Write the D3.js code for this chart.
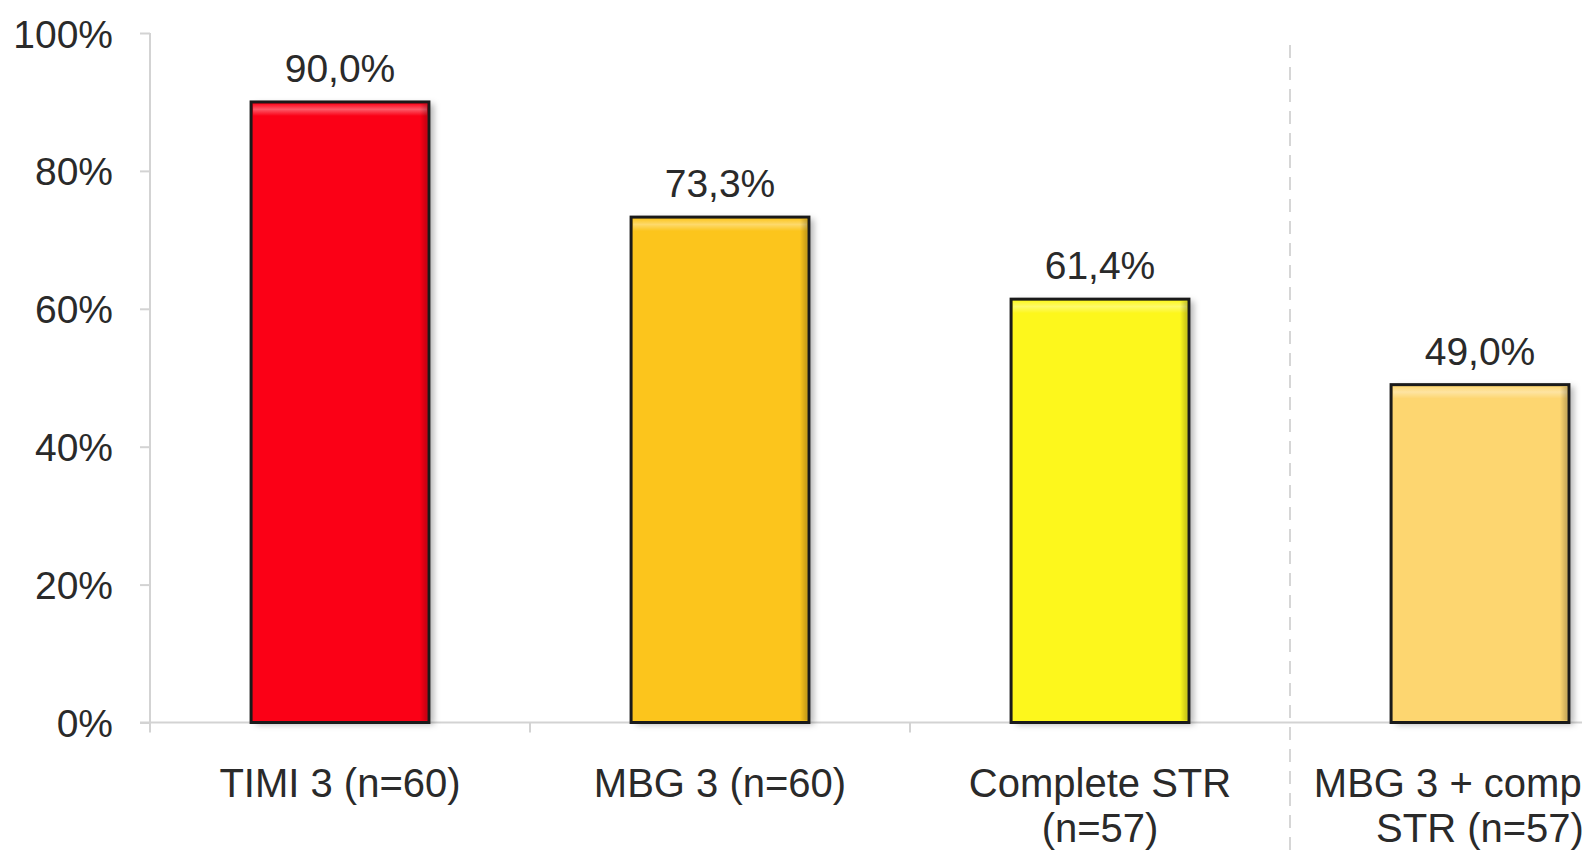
<!DOCTYPE html>
<html>
<head>
<meta charset="utf-8">
<script src="https://cdn.jsdelivr.net/npm/d3@7"></script>
<style>
  html, body { margin: 0; padding: 0; background: #ffffff; overflow: hidden; }
  svg { display: block; font-family: "Liberation Sans", Arial, sans-serif; }
</style>
</head>
<body>
<svg id="chart" width="1582" height="851"></svg>
<script>
// Reperfusion outcomes (% of patients)
const categories = ["TIMI 3 (n=60)", "MBG 3 (n=60)", "Complete STR (n=57)", "MBG 3 + complete STR (n=57)"];
const labelLines = [["TIMI 3 (n=60)"], ["MBG 3 (n=60)"], ["Complete STR", "(n=57)"], ["MBG 3 + complete", "STR (n=57)"]];
const values = [90.0, 73.3, 61.4, 49.0];
const barColors = ["#fb0019", "#fcc51e", "#fdf71f", "#fdd66f"];
const yTicks = [0, 20, 40, 60, 80, 100];

const svg = d3.select("#chart");
const W = 1582, H = 851;
const left = 150, baseY = 722.5, topY = 33;

const x = d3.scaleBand()
  .domain(categories)
  .range([left, left + 4 * 380])
  .paddingInner(0.532)
  .paddingOuter(0.266);

const y = d3.scaleLinear().domain([0, 100]).range([baseY, topY]);

const locale = d3.formatLocale({ decimal: ",", thousands: ".", grouping: [3], currency: ["", ""] });
const fmtVal = v => locale.format(".1f")(v) + "%";

const defs = svg.append("defs");
const shadow = defs.append("filter").attr("id", "barShadow")
  .attr("x", "-10%").attr("y", "-10%").attr("width", "130%").attr("height", "125%");
shadow.append("feDropShadow").attr("dx", 5).attr("dy", 2).attr("stdDeviation", 3)
  .attr("flood-color", "#000").attr("flood-opacity", 0.28);

// bevel gradients
const topGrad = defs.append("linearGradient").attr("id", "bevelTop").attr("x1", 0).attr("y1", 0).attr("x2", 0).attr("y2", 1);
topGrad.append("stop").attr("offset", "0%").attr("stop-color", "#fff").attr("stop-opacity", 0.05);
topGrad.append("stop").attr("offset", "45%").attr("stop-color", "#fff").attr("stop-opacity", 0.35);
topGrad.append("stop").attr("offset", "100%").attr("stop-color", "#fff").attr("stop-opacity", 0);
const rightGrad = defs.append("linearGradient").attr("id", "bevelRight").attr("x1", 0).attr("y1", 0).attr("x2", 1).attr("y2", 0);
rightGrad.append("stop").attr("offset", "0%").attr("stop-color", "#000").attr("stop-opacity", 0);
rightGrad.append("stop").attr("offset", "100%").attr("stop-color", "#000").attr("stop-opacity", 0.22);

const axisColor = "#d3d3d3";
const textColor = "#2a2a2a";

// y axis
const yAxis = svg.append("g")
  .attr("transform", `translate(${left},0)`)
  .call(d3.axisLeft(y).tickValues(yTicks).tickFormat(d => d + "%").tickSize(10).tickPadding(27));
yAxis.select(".domain").attr("stroke", axisColor).attr("stroke-width", 2).attr("d", `M0,${topY}V${baseY + 10}`);
yAxis.selectAll(".tick line").attr("stroke", axisColor).attr("stroke-width", 2);
yAxis.selectAll(".tick text").attr("fill", textColor).attr("font-size", 39).attr("dy", "0.36em");

// x axis baseline and boundary ticks
svg.append("line")
  .attr("x1", left - 10).attr("x2", W).attr("y1", baseY).attr("y2", baseY)
  .attr("stroke", axisColor).attr("stroke-width", 2);
const gap = (x.step() - x.bandwidth()) / 2;
const boundaries = categories.slice(1, 3).map(c => x(c) - gap);
svg.selectAll(".xtick").data(boundaries).join("line")
  .attr("x1", d => d).attr("x2", d => d).attr("y1", baseY).attr("y2", baseY + 10)
  .attr("stroke", axisColor).attr("stroke-width", 2);

// dashed separator before the combined endpoint
const sepX = x(categories[3]) - gap;
svg.append("line")
  .attr("x1", sepX).attr("x2", sepX).attr("y1", 45).attr("y2", H)
  .attr("stroke", "#d6d6d6").attr("stroke-width", 2).attr("stroke-dasharray", "13 9");

// bars
const bars = svg.selectAll(".bar").data(values).join("g").attr("class", "bar");
bars.append("rect")
  .attr("x", (d, i) => x(categories[i]))
  .attr("y", d => y(d))
  .attr("width", x.bandwidth())
  .attr("height", d => baseY - y(d))
  .attr("fill", (d, i) => barColors[i])
  .attr("filter", "url(#barShadow)");
bars.append("rect")
  .attr("x", (d, i) => x(categories[i]) + 2)
  .attr("y", d => y(d) + 2)
  .attr("width", x.bandwidth() - 4)
  .attr("height", 12)
  .attr("fill", "url(#bevelTop)");
bars.append("rect")
  .attr("x", (d, i) => x(categories[i]) + x.bandwidth() - 9)
  .attr("y", d => y(d) + 2)
  .attr("width", 7)
  .attr("height", d => baseY - y(d) - 4)
  .attr("fill", "url(#bevelRight)");
bars.append("rect")
  .attr("x", (d, i) => x(categories[i]))
  .attr("y", d => y(d))
  .attr("width", x.bandwidth())
  .attr("height", d => baseY - y(d))
  .attr("fill", "none")
  .attr("stroke", "#1a1a1a")
  .attr("stroke-width", 3);

// value labels
svg.selectAll(".val").data(values).join("text")
  .attr("x", (d, i) => x(categories[i]) + x.bandwidth() / 2)
  .attr("y", d => y(d) - 20)
  .attr("text-anchor", "middle")
  .attr("font-size", 39)
  .attr("fill", textColor)
  .text(d => fmtVal(d));

// category labels
const cats = svg.selectAll(".cat").data(labelLines).join("text")
  .attr("text-anchor", "middle")
  .attr("font-size", 40)
  .attr("fill", textColor);
cats.each(function (lines, i) {
  const t = d3.select(this);
  lines.forEach((ln, k) => {
    t.append("tspan")
      .attr("x", x(categories[i]) + x.bandwidth() / 2)
      .attr("y", 797 + k * 45)
      .text(ln);
  });
});
</script>
</body>
</html>
